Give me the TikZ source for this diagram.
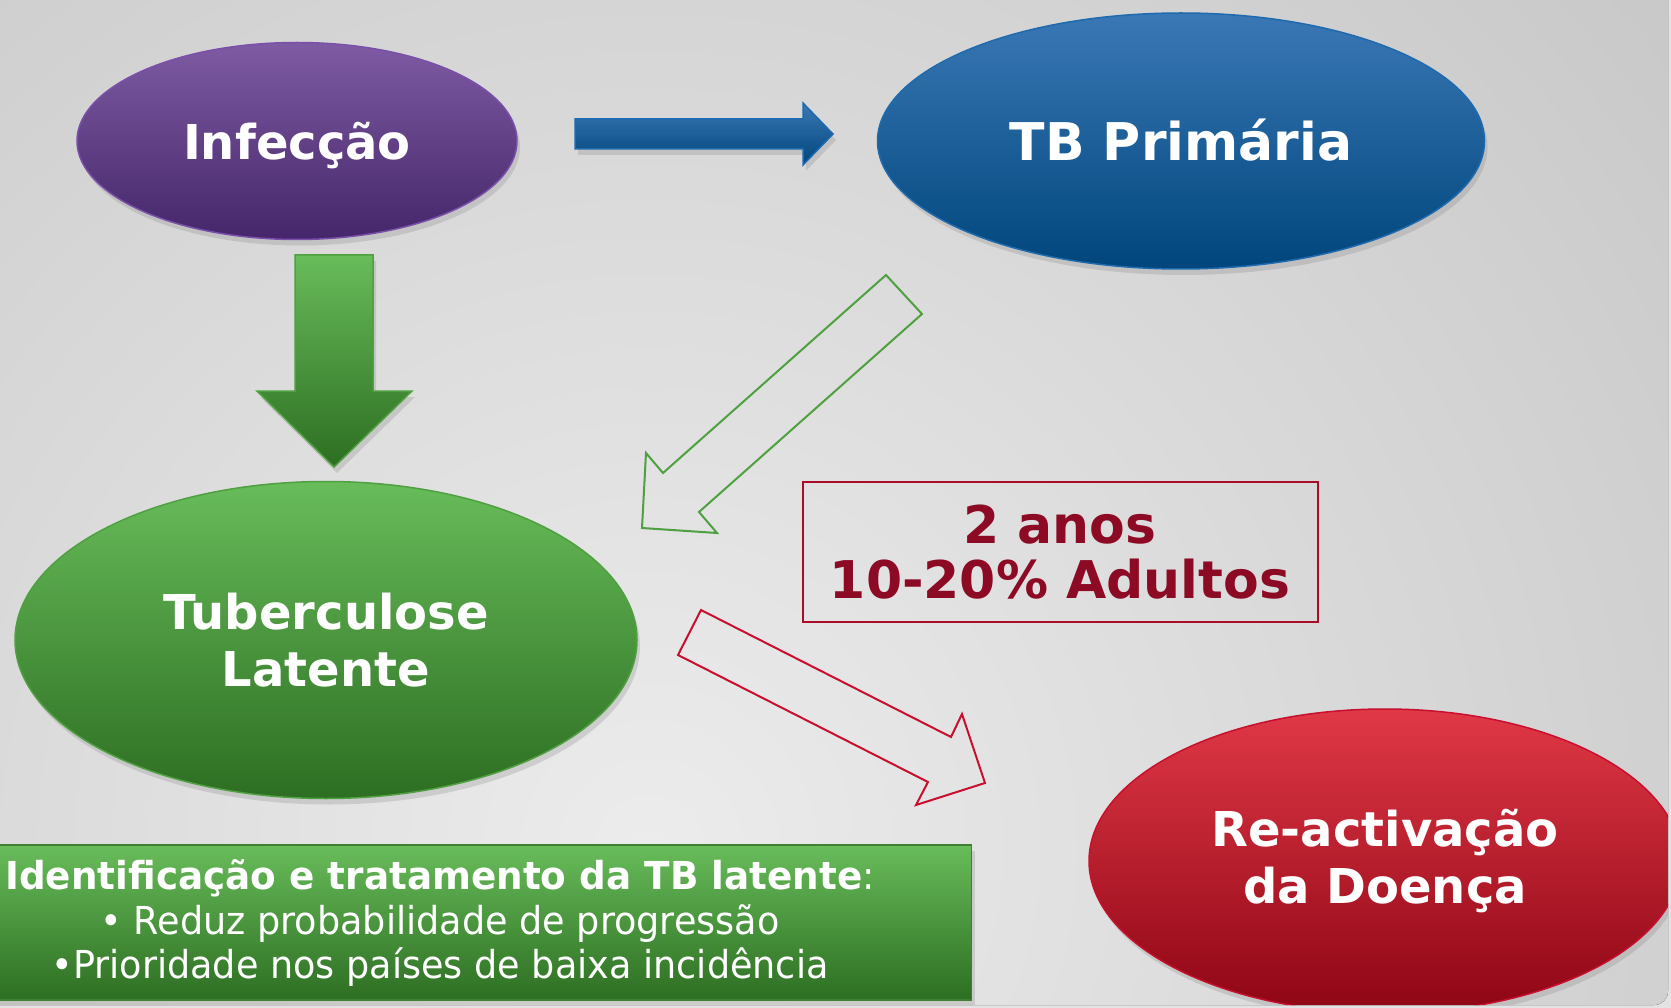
\documentclass[tikz,border=0pt]{standalone}
\usepackage{fontspec}
\setmainfont{DejaVu Sans}
\newfontfamily\notafont[FakeStretch=0.95,BoldFeatures={FakeStretch=0.97}]{DejaVu Sans}
\usetikzlibrary{shapes.geometric,shadows}

\definecolor{roxoA}{HTML}{7E5BA3}
\definecolor{roxoB}{HTML}{45266A}
\definecolor{roxoL}{HTML}{7A4FAA}
\definecolor{azulA}{HTML}{3A78B5}
\definecolor{azulB}{HTML}{00467C}
\definecolor{azulL}{HTML}{1E6AAE}
\definecolor{verdeA}{HTML}{68BC5A}
\definecolor{verdeB}{HTML}{2D6E22}
\definecolor{verdeL}{HTML}{4FA040}
\definecolor{vermA}{HTML}{E03846}
\definecolor{vermB}{HTML}{8E0514}
\definecolor{vermL}{HTML}{C8102E}
\definecolor{rotulo}{HTML}{8C0A24}
\definecolor{fundoA}{HTML}{ECECEC}
\definecolor{fundoB}{HTML}{A6A6A6}

\begin{document}
\begin{tikzpicture}[x=1pt,y=-1pt,
    sombra/.style={drop shadow={opacity=0.25,shadow xshift=3pt,shadow yshift=-6pt}},
    estado/.style={ellipse,inner sep=0pt,draw,line width=1.5pt,text=white,align=center,
        font=\bfseries\fontsize{48}{57}\selectfont,sombra},
    rotulobox/.style={rectangle,draw=vermL!85!black,line width=2pt,inner sep=0pt,align=center,
        text=rotulo,font=\bfseries\fontsize{52}{55}\selectfont},
    notabox/.style={rectangle,inner sep=0pt,draw=verdeL!80!black,line width=1.5pt,
        top color=verdeA,bottom color=verdeB,sombra},
    notatexto/.style={inner sep=0pt,align=center,text=white,font=\notafont\fontsize{38.5}{44.5}\selectfont},
    blocoseta/.style={line width=1.5pt,line join=miter,sombra},
    contorno/.style={line width=2pt,line join=miter}]
    \useasboundingbox (0,0) rectangle (1671,1008);
    \fill[black!11] (0,0) rectangle (1671,1008);
    \begin{scope}
        \clip[rounded corners=14pt] (-20,-20) rectangle (1668,1005);
        \fill[inner color=fundoA,outer color=fundoB] (-1950,-1750) rectangle (3250,3450);

        \node[estado,minimum width=440,minimum height=197,top color=roxoA,bottom color=roxoB,draw=roxoL,
            text height=38pt,text depth=0pt] (inf) at (297,141) {Infecção};
        \node[estado,minimum width=607,minimum height=256,top color=azulA,bottom color=azulB,draw=azulL,
            text height=40pt,text depth=0pt,font=\bfseries\fontsize{52}{60}\selectfont] (prim) at (1181,141) {TB Primária};
        \node[estado,minimum width=622,minimum height=317,top color=verdeA,bottom color=verdeB,draw=verdeL]
            (lat) at (326,640) {Tuberculose\\Latente};
        \node[estado,minimum width=592,minimum height=304,top color=vermA,bottom color=vermB,draw=vermL]
            (reat) at (1385,861) {Re-activação\\da Doença};

        \node[rotulobox,minimum width=515,minimum height=140] (anos) at (1060,552) {2 anos\\10-20\% Adultos};

        \node[notabox,minimum width=975,minimum height=155] (nota) at (484,922.5) {};
        \node[notatexto] (notatxt) at (440,923.5)
            {{\bfseries Identificação e tratamento da TB latente}:\\• Reduz probabilidade de progressão\\•Prioridade nos países de baixa incidência};

        \path[blocoseta,draw=azulL,top color=azulA,bottom color=azulB]
            (575,119) -- (803,119) -- (803,103) -- (833,134) -- (803,165) -- (803,149) -- (575,149) -- cycle;
        \path[blocoseta,draw=verdeL,top color=verdeA,bottom color=verdeB]
            (295,255) -- (373,255) -- (373,391) -- (412,391) -- (334,467) -- (257,391) -- (295,391) -- cycle;
        \draw[contorno,verdeL] (886,275) -- (922,314) -- (699,512) -- (717,533) -- (642,528) -- (646,453) -- (663,473) -- cycle;
        \draw[contorno,vermL] (701,610) -- (951,737) -- (962,714) -- (985,783) -- (916,805) -- (928,782) -- (678,655) -- cycle;
    \end{scope}
\end{tikzpicture}
\end{document}
